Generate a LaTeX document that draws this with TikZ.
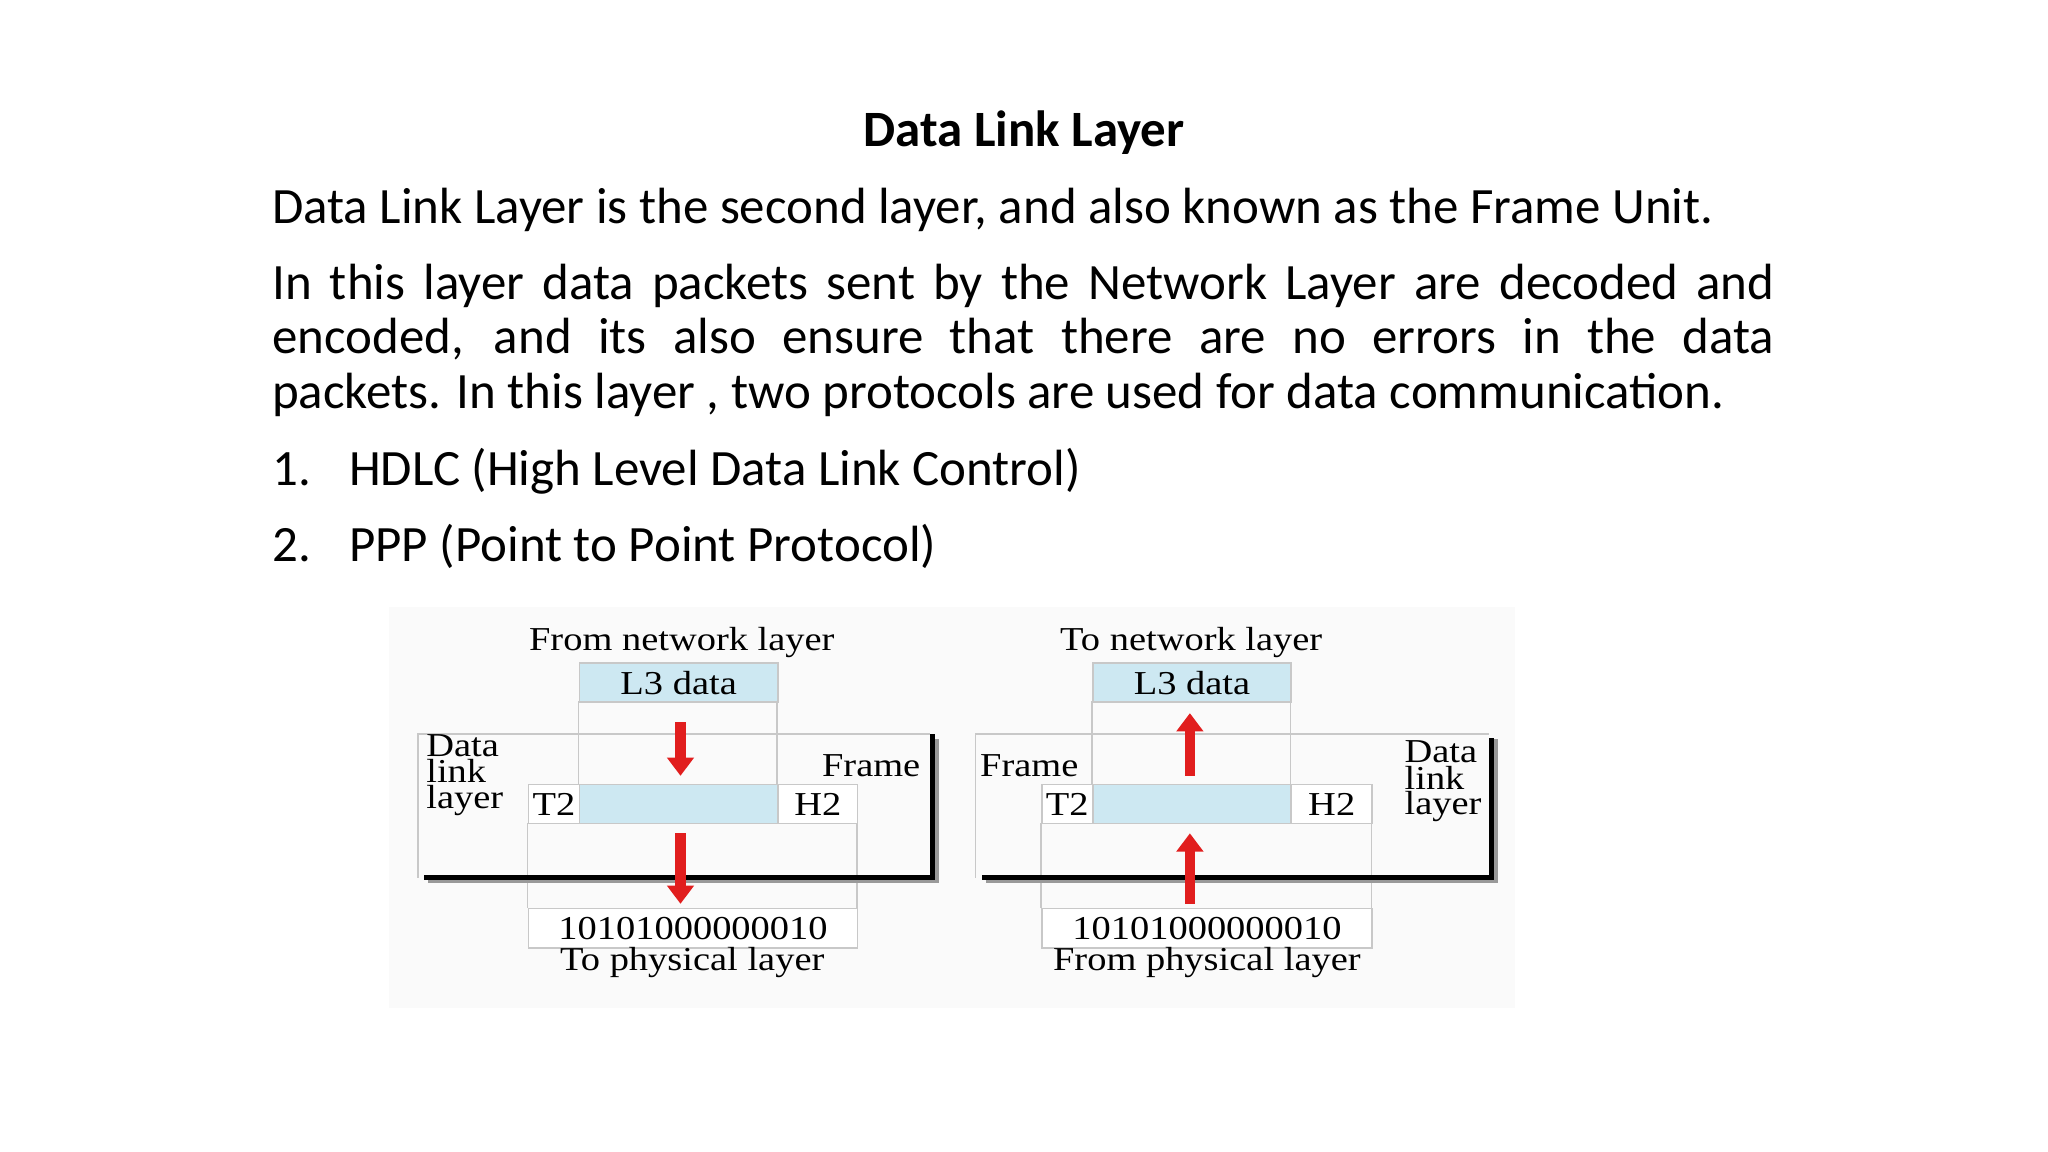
\documentclass[tikz,border=0pt]{standalone}
\usepackage{fontspec}
\setmainfont{Carlito}
\newfontfamily\serifd[FakeStretch=1.15]{Liberation Serif}
\usetikzlibrary{arrows.meta}
\definecolor{lblue}{RGB}{205,232,242}
\definecolor{bgray}{RGB}{200,200,200}
\definecolor{ared}{RGB}{225,30,30}
\begin{document}
\begin{tikzpicture}[x=0.5pt,y=-0.5pt,
  body/.style={inner sep=0pt,font=\fontsize{19.5pt}{21pt}\selectfont},
  dtxt/.style={inner sep=0pt,font=\serifd\fontsize{12.8pt}{8.6pt}\selectfont},
  cell/.style={draw=bgray,line width=0.6pt},
  fill cell/.style={draw=bgray,fill=lblue,line width=0.6pt},
  thick line/.style={line width=2pt,black},
  rarrow/.style={ared,line width=4pt,-{Triangle[width=10pt,length=7pt]}}]
\useasboundingbox (0,0) rectangle (1568,882);
\fill[white] (0,0) rectangle (1568,882);
% text
\node[body,font=\bfseries\fontsize{19.5pt}{21pt}\selectfont,anchor=base] (title) at (784,112) {Data Link Layer};
\node[body,anchor=base west] (l1) at (208,171) {Data Link Layer is the second layer, and also known as the Frame Unit.};
\node[body,anchor=base west] (l2) at (208,229) {\makebox[1150\dimexpr0.5pt][s]{In this layer data packets sent by the Network Layer are decoded and}};
\node[body,anchor=base west] (l3) at (208,271) {\makebox[1150\dimexpr0.5pt][s]{encoded, and its also ensure that there are no errors in the data}};
\node[body,anchor=base west] (l4) at (208,313) {packets. In this layer , two protocols are used for data communication.};
\node[body,anchor=base west] (n1) at (208,372) {1.};
\node[body,anchor=base west] (i1) at (267,372) {HDLC (High Level Data Link Control)};
\node[body,anchor=base west] (n2) at (208,430) {2.};
\node[body,anchor=base west] (i2) at (267,430) {PPP (Point to Point Protocol)};
% background of figure
\fill[black!2] (298,465) rectangle (1160,772);
% ===== left =====
\draw[cell] (320,672) -- (320,562) -- (712,562);
\draw[cell] (443,537) -- (443,600) (595,537) -- (595,600);
\draw[cell] (404,630) -- (404,695) (656,630) -- (656,695);
\node[fill cell,minimum width=76pt,minimum height=15pt,anchor=north west,dtxt] (L3a) at (443,507) {L3 data};
\node[cell,fill=white,minimum width=19.5pt,minimum height=15pt,anchor=north west,dtxt] (T2a) at (404,600) {T2};
\node[fill cell,minimum width=76pt,minimum height=15pt,anchor=north west] (Da) at (443,600) {};
\node[cell,fill=white,minimum width=30.5pt,minimum height=15pt,anchor=north west,dtxt] (H2a) at (595,600) {H2};
\node[cell,fill=white,minimum width=126pt,minimum height=15pt,anchor=north west,dtxt] (Ba) at (404,695) {10101000000010};
\draw[black!40,line width=2pt] (328,674) -- (717,674) -- (717,566);
\draw[thick line] (325,672) -- (714,672) -- (714,562);
\node[dtxt] (fna) at (522,492) {From network layer};
\node[dtxt] (tpa) at (530,737) {To physical layer};
\node[dtxt,anchor=north west,align=left] (dla) at (326,562) {Data\\link\\layer};
\node[dtxt,anchor=east] (fra) at (705,586) {Frame};
\coordinate (a1s) at (521,553); \coordinate (a1e) at (521,594);
\coordinate (a2s) at (521,638); \coordinate (a2e) at (521,692);
\draw[rarrow] (a1s) -- (a1e);
\draw[rarrow] (a2s) -- (a2e);
% ===== right =====
\draw[cell] (747,672) -- (747,562) -- (1140,562);
\draw[cell] (836,537) -- (836,600) (988,537) -- (988,600);
\draw[cell] (797,630) -- (797,695) (1050,630) -- (1050,695);
\node[fill cell,minimum width=76pt,minimum height=15pt,anchor=north west,dtxt] (L3b) at (836,507) {L3 data};
\node[cell,fill=white,minimum width=19.5pt,minimum height=15pt,anchor=north west,dtxt] (T2b) at (797,600) {T2};
\node[fill cell,minimum width=76pt,minimum height=15pt,anchor=north west] (Db) at (836,600) {};
\node[cell,fill=white,minimum width=31pt,minimum height=15pt,anchor=north west,dtxt] (H2b) at (988,600) {H2};
\node[cell,fill=white,minimum width=126.5pt,minimum height=15pt,anchor=north west,dtxt] (Bb) at (797,695) {10101000000010};
\draw[black!40,line width=2pt] (755,674) -- (1145,674) -- (1145,566);
\draw[thick line] (752,672) -- (1142,672) -- (1142,565);
\node[dtxt] (tnb) at (912,492) {To network layer};
\node[dtxt] (fpb) at (924,737) {From physical layer};
\node[dtxt,anchor=north west,align=left] (dlb) at (1075,567) {Data\\link\\layer};
\node[dtxt,anchor=west] (frb) at (750,586) {Frame};
\coordinate (b1s) at (911,594); \coordinate (b1e) at (911,546);
\coordinate (b2s) at (911,692); \coordinate (b2e) at (911,638);
\draw[rarrow] (b1s) -- (b1e);
\draw[rarrow] (b2s) -- (b2e);
\end{tikzpicture}
\end{document}
